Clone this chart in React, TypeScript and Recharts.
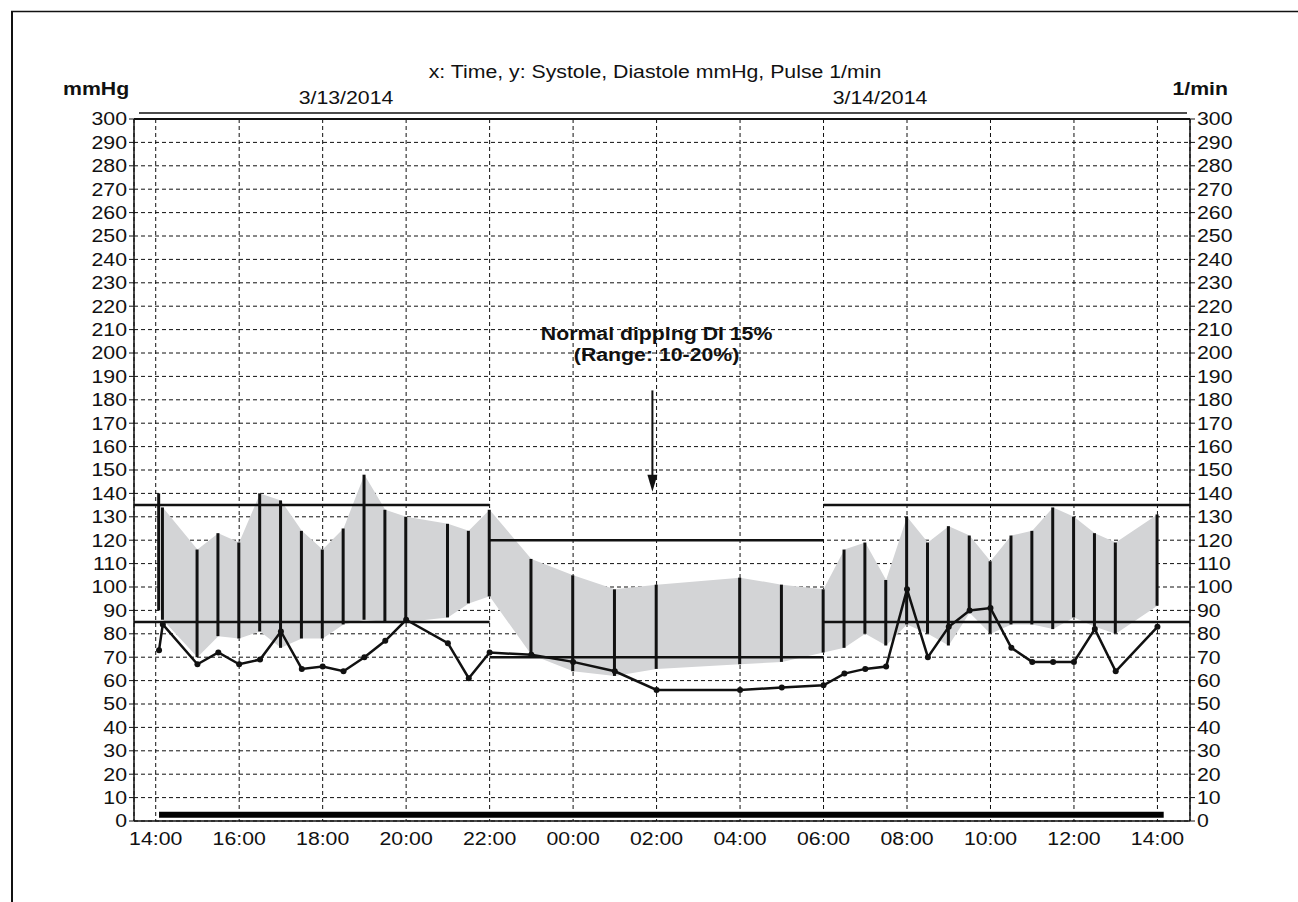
import React from 'react';
import {
  ComposedChart,
  Area,
  Bar,
  Line,
  XAxis,
  YAxis,
  CartesianGrid,
  ReferenceLine,
  ReferenceDot,
} from 'recharts';

// measurement times, hours after 14:00 on 3/13/2014
const times = [0.08, 0.17, 1, 1.5, 2, 2.5, 3, 3.5, 4, 4.5, 5, 5.5, 6, 7, 7.5, 8, 9, 10, 11, 12, 14, 15, 16, 16.5, 17, 17.5, 18, 18.5, 19, 19.5, 20, 20.5, 21, 21.5, 22, 22.5, 23, 24];
const systole = [140, 134, 116, 123, 119, 140, 137, 124, 116, 125, 148, 133, 130, 127, 124, 133, 112, 105, 99, 101, 104, 101, 99, 116, 119, 103, 130, 119, 126, 122, 111, 122, 124, 134, 130, 123, 119, 131];
const diastole = [90, 86, 70, 79, 78, 81, 74, 78, 78, 84, 86, 85, 85, 87, 93, 96, 71, 64, 62, 65, 67, 68, 72, 74, 80, 75, 84, 80, 75, 89, 80, 84, 84, 82, 87, 83, 80, 92];
const pulse = [73, 84, 67, 72, 67, 69, 81, 65, 66, 64, 70, 77, 86, 76, 61, 72, 71, 68, 64, 56, 56, 57, 58, 63, 65, 66, 99, 70, 83, 90, 91, 74, 68, 68, 68, 82, 64, 83];
// first reading is not part of the grey range band
const bandStart = 1;

// day / night limits (sys, dia)
const limitFrom = [-0.52, 8, 16];
const limitTo = [8, 16, 24.78];
const limitSys = [135, 120, 135];
const limitDia = [85, 70, 85];

// recording period bar
const periodFrom = 0.08;
const periodTo = 24.15;
const periodLevel = 2.7;

const hourTicks = [0, 2, 4, 6, 8, 10, 12, 14, 16, 18, 20, 22, 24];
const valueTicks = [0, 10, 20, 30, 40, 50, 60, 70, 80, 90, 100, 110, 120, 130, 140, 150, 160, 170, 180, 190, 200, 210, 220, 230, 240, 250, 260, 270, 280, 290, 300];

const rows = times.map((t, i) => ({
  t,
  range: [diastole[i], systole[i]],
  band: i >= bandStart ? [diastole[i], systole[i]] : null,
  pulse: pulse[i],
}));

const STRETCH = 1.15;
const FONT = '"Liberation Sans", Arial, sans-serif';
const INK = '#111';

const fmtHour = (t: number) => `${String((14 + t) % 24).padStart(2, '0')}:00`;

function WideText({ x, y, size = 18.5, bold = false, anchor = 'middle', dy, children }: any) {
  return (
    <text
      transform={`translate(${x},${y}) scale(${STRETCH},1)`}
      textAnchor={anchor}
      dy={dy}
      fontSize={size}
      fontWeight={bold ? 700 : 400}
      fontFamily={FONT}
      fill={INK}
    >
      {children}
    </text>
  );
}

const YTick = (props: any) => {
  const { x, y, payload, textAnchor } = props;
  return <WideText x={x} y={y} anchor={textAnchor} dy="0.35em">{payload.value}</WideText>;
};

const XTick = (props: any) => {
  const { x, y, payload } = props;
  return <WideText x={x} y={y} dy="0.71em">{fmtHour(payload.value)}</WideText>;
};

const Note = (props: any) => {
  const { cx, cy } = props;
  return (
    <g>
      <WideText x={cx} y={cy} bold>Normal dipping DI 15%</WideText>
      <WideText x={cx} y={cy + 21} bold>(Range: 10-20%)</WideText>
    </g>
  );
};

const ArrowHead = (props: any) => {
  const { cx, cy } = props;
  return <path d={`M${cx - 5},${cy - 17} L${cx + 5},${cy - 17} L${cx},${cy} Z`} fill={INK} />;
};

export default function App() {
  return (
    <div style={{ position: 'absolute', left: 0, top: 0, width: 1298, height: 902, background: '#fff' }}>
      <ComposedChart
        width={1298}
        height={902}
        data={rows}
        margin={{ top: 119, right: 58, bottom: 51, left: 84 }}
      >
        <XAxis
          dataKey="t"
          type="number"
          domain={[-0.52, 24.78]}
          ticks={hourTicks}
          interval={0}
          allowDataOverflow
          tick={<XTick />}
          tickLine={false}
          tickMargin={5}
          height={30}
          axisLine={{ stroke: INK, strokeWidth: 1.5 }}
        />
        <YAxis
          yAxisId="l"
          domain={[0, 300]}
          ticks={valueTicks}
          interval={0}
          width={50}
          tick={<YTick />}
          tickSize={5}
          tickMargin={2}
          tickLine={{ stroke: INK }}
          axisLine={{ stroke: INK, strokeWidth: 1.5 }}
        />
        <YAxis
          yAxisId="r"
          orientation="right"
          domain={[0, 300]}
          ticks={valueTicks}
          interval={0}
          width={50}
          tick={<YTick />}
          tickSize={5}
          tickMargin={2}
          tickLine={{ stroke: INK }}
          axisLine={{ stroke: INK, strokeWidth: 1.5 }}
        />
        <Area
          yAxisId="l"
          dataKey="band"
          type="linear"
          fill="#d3d4d6"
          fillOpacity={1}
          stroke="none"
          connectNulls={false}
          activeDot={false}
          isAnimationActive={false}
        />
        <CartesianGrid yAxisId="l" strokeDasharray="4 3" stroke={INK} strokeWidth={1} />
        <ReferenceLine yAxisId="l" y={300} stroke={INK} strokeWidth={2} />
        {limitFrom.map((from, i) => (
          <ReferenceLine
            key={`s${i}`}
            yAxisId="l"
            segment={[{ x: from, y: limitSys[i] }, { x: limitTo[i], y: limitSys[i] }]}
            stroke={INK}
            strokeWidth={2.5}
          />
        ))}
        {limitFrom.map((from, i) => (
          <ReferenceLine
            key={`d${i}`}
            yAxisId="l"
            segment={[{ x: from, y: limitDia[i] }, { x: limitTo[i], y: limitDia[i] }]}
            stroke={INK}
            strokeWidth={2.5}
          />
        ))}
        <ReferenceLine
          yAxisId="l"
          segment={[{ x: periodFrom, y: periodLevel }, { x: periodTo, y: periodLevel }]}
          stroke="#000"
          strokeWidth={6}
        />
        <Bar yAxisId="l" dataKey="range" barSize={3} fill={INK} isAnimationActive={false} />
        <Line
          yAxisId="r"
          dataKey="pulse"
          type="linear"
          stroke={INK}
          strokeWidth={2.5}
          dot={{ r: 3, fill: INK, stroke: INK, strokeWidth: 0 }}
          activeDot={false}
          isAnimationActive={false}
        />
        <ReferenceLine
          yAxisId="l"
          segment={[{ x: 11.9, y: 184 }, { x: 11.9, y: 147 }]}
          stroke={INK}
          strokeWidth={2}
        />
        <ReferenceDot yAxisId="l" x={11.9} y={140.7} r={0} shape={<ArrowHead />} />
        <ReferenceDot yAxisId="l" x={12} y={205.6} r={0} shape={<Note />} />
      </ComposedChart>
      <svg
        width={1298}
        height={902}
        style={{ position: 'absolute', left: 0, top: 0, pointerEvents: 'none' }}
      >
        <line x1={11} y1={11.5} x2={1298} y2={11.5} stroke={INK} strokeWidth={1.5} />
        <line x1={12} y1={11} x2={12} y2={902} stroke={INK} strokeWidth={2} />
        <line x1={139} y1={113} x2={1187} y2={113} stroke={INK} strokeWidth={1.5} />
        <WideText x={655} y={77.5}>x: Time, y: Systole, Diastole mmHg, Pulse 1/min</WideText>
        <WideText x={63} y={95} bold anchor="start">mmHg</WideText>
        <WideText x={1228} y={94.5} bold anchor="end">1/min</WideText>
        <WideText x={346} y={104}>3/13/2014</WideText>
        <WideText x={880} y={104}>3/14/2014</WideText>
      </svg>
    </div>
  );
}
